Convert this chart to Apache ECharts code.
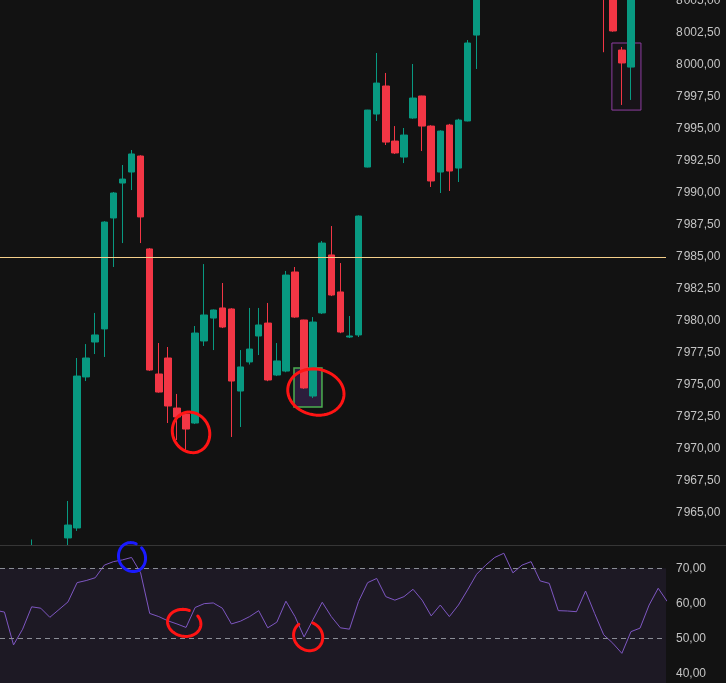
<!DOCTYPE html>
<html>
<head>
<meta charset="utf-8">
<script src="https://cdn.jsdelivr.net/npm/echarts@6/dist/echarts.min.js"></script>
<style>
html,body{margin:0;padding:0;background:#121212;overflow:hidden;}
#wrap{position:relative;width:726px;height:683px;}
#m{position:absolute;left:0;top:0;width:726px;height:545px;}
#r{position:absolute;left:0;top:530px;width:726px;height:153px;}
</style>
</head>
<body>
<div id="wrap"><div id="m"></div><div id="r"></div></div>
<script>
// ---- data (bar index, OHLC, RSI) ----
const bars = [-8,-7,-6,-5,-4,-3,-2,-1,0,1,2,3,4,5,6,7,8,9,10,11,12,13,14,15,16,17,18,19,20,21,22,23,24,25,26,27,28,29,30,31,32,33,34,35,36,37,38,39,40,41,42,43,44,45,46,47,48,49,50,51,52,53,54,55,56,57,58,59,60,61,62,63,64,65,66];
const opens = [7960.0,7960.5,7960.2,7957.5,7958.6,7961.2,7960.8,7960.0,
  7963.05,7963.83,7975.63,7978.36,7979.38,7988.05,7990.78,7991.64,7992.89,7985.63,
  7975.86,7977.11,7973.20,7972.73,7972.03,7978.44,7980.23,7981.02,7980.94,7974.53,
  7976.80,7978.83,7979.84,7975.78,7976.09,7983.83,7980.08,7974.14,7980.63,7985.16,
  7982.27,7978.75,7978.91,7992.03,7996.17,7998.36,7994.06,7992.81,7995.86,7997.58,
  7995.23,7991.64,7995.31,7991.95,7995.63,8002.34,8006.6,8009.0,8012.0,8014.0,
  8011.2,8013.0,8014.6,8012.2,8011.6,8008.0,8007.9,8007.7,8010.0,8008.5,
  8005.8,8001.17,7999.84,8006.5,8006.9,8009.0,8011.0];
const closes = [7960.5,7960.2,7957.5,7958.6,7961.2,7960.8,7960.0,7961.6,
  7964.06,7975.70,7977.11,7978.91,7987.73,7990.00,7991.09,7993.05,7988.13,7976.17,
  7974.45,7973.36,7972.50,7971.56,7979.06,7980.47,7980.86,7979.53,7975.31,7976.41,
  7977.81,7979.69,7975.39,7976.88,7983.59,7980.31,7974.77,7979.92,7986.09,7982.03,
  7979.14,7978.83,7988.20,7996.48,7998.59,7993.98,7993.13,7994.53,7997.42,7995.23,
  7990.94,7994.84,7991.72,7995.70,8001.72,8006.6,8009.0,8012.0,8014.0,8011.2,
  8013.0,8014.6,8012.2,8011.6,8008.0,8007.9,8007.7,8010.0,8008.5,8005.8,
  8002.66,8000.16,8006.5,8006.9,8009.0,8011.0,8010.2];
const lows = [7959.5,7959.8,7957.0,7957.2,7958.3,7960.2,7959.4,7959.8,
  7962.0,7963.6,7975.31,7977.42,7977.19,7984.22,7986.09,7990.23,7986.09,7976.10,
  7974.40,7972.03,7970.70,7969.77,7971.95,7978.05,7977.73,7979.45,7970.94,7971.72,
  7976.60,7977.34,7975.30,7975.70,7976.00,7980.25,7974.70,7973.98,7980.55,7981.95,
  7979.05,7978.67,7978.75,7992.00,7995.63,7993.75,7993.05,7992.34,7995.80,7993.28,
  7990.47,7990.00,7990.16,7990.86,7995.60,7999.69,8006.0,8008.4,8011.5,8010.6,
  8010.8,8012.4,8011.8,8010.9,8007.4,8006.8,8006.5,8007.2,8007.6,8001.00,
  8002.60,7996.88,7997.27,8005.6,8006.3,8008.4,8009.4];
const highs = [7961.0,7961.2,7960.6,7959.4,7962.93,7962.0,7961.4,7962.3,
  7965.94,7977.11,7978.20,7980.63,7987.80,7990.08,7992.19,7993.36,7992.95,7985.70,
  7978.28,7977.97,7974.30,7972.89,7979.61,7984.45,7980.90,7982.97,7981.00,7977.73,
  7981.02,7981.02,7981.41,7978.28,7983.91,7984.22,7980.10,7980.31,7986.25,7987.42,
  7984.53,7980.39,7988.25,7996.50,8000.94,7999.38,7995.23,7995.08,8000.08,7997.60,
  7995.30,7994.90,7995.40,7995.80,8001.95,8007.0,8009.6,8012.5,8014.8,8014.4,
  8013.6,8015.2,8015.0,8013.0,8012.0,8009.2,8008.8,8010.6,8010.4,8009.0,
  8006.3,8001.41,8007.0,8008.0,8009.5,8011.8,8011.4];
const rsiValues = [58.0,57.5,48.1,52.6,59.0,58.6,56.0,58.2,
  60.4,65.9,66.5,67.3,70.9,71.9,72.4,73.1,68.7,57.1,
  56.2,55.0,54.1,53.1,58.8,59.9,60.1,58.6,54.1,54.9,
  56.2,57.9,53.0,54.6,60.6,56.2,50.4,55.4,60.3,56.2,
  53.0,52.6,60.5,65.9,67.1,61.9,60.9,61.9,64.0,60.9,
  56.4,59.5,56.2,59.5,63.8,68.3,70.9,73.1,74.3,68.7,
  70.9,71.9,66.4,65.7,57.9,57.8,57.6,63.5,57.1,51.0,
  48.6,45.7,51.9,52.9,59.5,64.3,60.5];
const priceLevel = 7985;
const rsiLevels = [70, 50, 30];

// ---- annotations (drawings) ----
const annoColors = ['#ff1414', '#1a1aff'];
// [bar, value, rx px, ry px, start deg, sweep deg, colorIndex]
const priceMarks = [
  [13.55, 7971.3, 18, 21, -95, 355, 0],
  [27.3, 7974.45, 27, 24, -130, 370, 0]
];
const rsiMarks = [
  [7.05, 73.2, 13, 15, -40, 330, 1],
  [12.8, 54.4, 16, 14, -30, 320, 0],
  [26.45, 50.6, 14, 15, -70, 300, 0]
];
const boxes = [
  {from: [24.89, 7976.33], to: [27.97, 7973.28], fill: 'rgba(110,60,170,0.28)', border: '#4caf50', bw: 1.5},
  {from: [59.9, 8001.72], to: [63.1, 7996.48], fill: 'rgba(156,39,176,0.04)', border: '#8e3ea0', bw: 1}
];

const candleData = bars.map((b, i) => [b, opens[i], closes[i], lows[i], highs[i]]);
const rsiData = bars.map((b, i) => [b, rsiValues[i]]);

function priceFmt(v) {
  const s = v.toFixed(2).split('.');
  return s[0].replace(/\B(?=(\d{3})+(?!\d))/g, '\u200A') + ',' + s[1];
}
function rsiFmt(v) { return v.toFixed(2).replace('.', ','); }

function loopRender(params, api) {
  const c = api.coord([api.value(0), api.value(1)]);
  const rx = api.value(2), ry = api.value(3);
  const a0 = api.value(4) * Math.PI / 180, sw = api.value(5) * Math.PI / 180;
  const pts = [];
  for (let i = 0; i <= 64; i++) {
    const t = a0 + sw * i / 64;
    const w = 1 + 0.06 * Math.sin(t * 2 + 0.7);
    pts.push([c[0] + rx * w * Math.cos(t), c[1] + ry * w * Math.sin(t)]);
  }
  return {
    type: 'polyline',
    shape: {points: pts},
    style: {stroke: annoColors[api.value(6)], lineWidth: 3, fill: 'none', lineCap: 'round', lineJoin: 'round'}
  };
}

const xMin = -7.489, xMax = 65.86;
const labelStyle = {color: '#c4c4c4', fontSize: 12, fontFamily: '"Liberation Sans", "DejaVu Sans", sans-serif', margin: 10};

// ---- price pane ----
const main = echarts.init(document.getElementById('m'));
main.setOption({
  animation: false,
  backgroundColor: '#121212',
  grid: {left: 0, right: 60, top: 0, bottom: 0, outerBoundsMode: 'none', containLabel: false},
  xAxis: {type: 'value', min: xMin, max: xMax, show: false},
  yAxis: {type: 'value', position: 'right', min: 7962.5, max: 8005.08, interval: 2.5,
     axisLine: {show: false}, axisTick: {show: false}, splitLine: {show: false},
     axisLabel: Object.assign({formatter: priceFmt, showMinLabel: false, showMaxLabel: false}, labelStyle)},
  series: [
    {
      type: 'candlestick',
      data: candleData, encode: {x: 0, y: [1, 2, 3, 4]},
      barWidth: 7, clip: true,
      itemStyle: {color: '#089981', color0: '#f23645', borderColor: '#089981', borderColor0: '#f23645', borderWidth: 1},
      emphasis: {disabled: true},
      markLine: {
        silent: true, symbol: ['none', 'none'], label: {show: false},
        lineStyle: {color: '#f5cf8a', width: 1, type: 'solid'},
        data: [{yAxis: priceLevel}]
      },
      markArea: {
        silent: true,
        data: boxes.map(b => [
          {coord: b.from, itemStyle: {color: b.fill, borderColor: b.border, borderWidth: b.bw}},
          {coord: b.to}
        ])
      }
    },
    {
      type: 'custom', clip: false, z: 10,
      data: priceMarks, encode: {x: 0, y: 1}, renderItem: loopRender, silent: true
    }
  ]
});

// ---- RSI pane (overlaps price pane by 15px with a transparent top strip) ----
const rsi = echarts.init(document.getElementById('r'));
rsi.setOption({
  animation: false,
  backgroundColor: 'transparent',
  grid: {left: 0, right: 60, top: 16, bottom: -25.3, outerBoundsMode: 'none', containLabel: false},
  xAxis: {type: 'value', min: xMin, max: xMax, show: false},
  yAxis: {type: 'value', position: 'right', min: 30, max: 76.37, interval: 10,
     axisLine: {show: false}, axisTick: {show: false}, splitLine: {show: false},
     axisLabel: Object.assign({formatter: rsiFmt, showMinLabel: false, showMaxLabel: false}, labelStyle)},
  graphic: [
    {type: 'rect', shape: {x: 0, y: 15, width: 726, height: 140}, style: {fill: '#121212'}, z: 0, silent: true},
    {type: 'line', shape: {x1: 0, y1: 15.5, x2: 726, y2: 15.5}, style: {stroke: '#363636', lineWidth: 1}, z: 0, silent: true}
  ],
  series: [
    {
      type: 'line',
      data: rsiData, symbol: 'none', showSymbol: false,
      lineStyle: {color: '#7e57c2', width: 1},
      emphasis: {disabled: true},
      markArea: {
        silent: true, itemStyle: {color: 'rgba(126,87,194,0.1)'},
        data: [[{yAxis: 30}, {yAxis: 70}]]
      },
      markLine: {
        silent: true, symbol: ['none', 'none'], label: {show: false},
        lineStyle: {color: '#8a8d96', width: 1, type: [5, 4]},
        data: rsiLevels.map(v => ({yAxis: v}))
      }
    },
    {
      type: 'custom', clip: false, z: 10,
      data: rsiMarks, encode: {x: 0, y: 1}, renderItem: loopRender, silent: true
    }
  ]
});
</script>
</body>
</html>
